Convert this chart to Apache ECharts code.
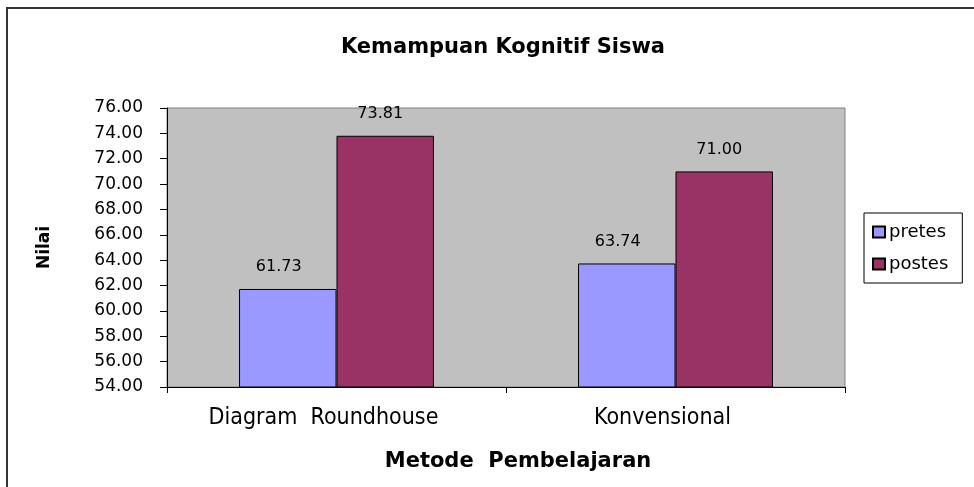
<!DOCTYPE html>
<html>
<head>
<meta charset="utf-8">
<script src="https://cdn.jsdelivr.net/npm/echarts@6/dist/echarts.min.js"></script>
<style>html,body{margin:0;padding:0;background:#fff}#c{width:974px;height:487px}</style>
</head>
<body>
<div id="c"></div>
<script>
const categories = ['Diagram  Roundhouse', 'Konvensional'];
const pretes = [61.73, 63.74];
const postes = [73.81, 71.00];
const yMin = 54, yMax = 76, yStep = 2;

const chart = echarts.init(document.getElementById('c'));
const labelStyle = (dx) => ({
  show: true, position: 'top', distance: 14, offset: [dx, 0],
  fontFamily: 'DejaVu Sans', fontSize: 16, color: '#000',
  formatter: p => p.value.toFixed(2)
});
chart.setOption({
  animation: false,
  backgroundColor: '#fff',
  title: {
    text: 'Kemampuan Kognitif Siswa',
    left: 498, top: 32, textAlign: 'center',
    textStyle: { fontFamily: 'DejaVu Sans', fontWeight: 'bold', fontSize: 21, color: '#000' }
  },
  graphic: [{
    type: 'rect', silent: true,
    shape: { x: 7, y: 8, width: 990, height: 500 },
    style: { fill: 'none', stroke: '#333', lineWidth: 2 }
  }],
  legend: {
    orient: 'vertical', left: 864, top: 213,
    padding: [10, 14, 10, 8], itemGap: 14,
    itemWidth: 12, itemHeight: 11,
    borderColor: '#000', borderWidth: 1,
    textStyle: { fontFamily: 'DejaVu Sans', fontSize: 18, color: '#000', padding: [0, 0, 0, -1] },
    data: [{ name: 'pretes', icon: 'rect' }, { name: 'postes', icon: 'rect' }]
  },
  grid: {
    left: 167, right: 129, top: 108, bottom: 100,
    show: true, backgroundColor: '#C0C0C0', borderColor: '#808080', borderWidth: 1
  },
  xAxis: {
    type: 'category', data: categories,
    name: 'Metode  Pembelajaran', nameLocation: 'middle', nameGap: 64,
    nameTextStyle: { fontFamily: 'DejaVu Sans', fontWeight: 900, fontSize: 21, color: '#000', padding: [0, 0, 0, 24] },
    axisLine: { lineStyle: { color: '#000', width: 1 } },
    axisTick: { show: true, length: 6, lineStyle: { color: '#000' } },
    axisLabel: { margin: 20, padding: [0, 26, 0, 0], fontFamily: "'Liberation Sans Narrow', 'DejaVu Sans Condensed', 'Liberation Sans', sans-serif", fontSize: 23, color: '#000' }
  },
  yAxis: {
    type: 'value', min: yMin, max: yMax, interval: yStep,
    name: 'Nilai', nameLocation: 'middle', nameGap: 114, nameRotate: 90,
    nameTextStyle: { fontFamily: 'DejaVu Sans', fontWeight: 'bold', fontSize: 17, color: '#000' },
    axisLine: { show: true, lineStyle: { color: '#000', width: 1 } },
    axisTick: { show: true, length: 7, lineStyle: { color: '#000' } },
    splitLine: { show: false },
    axisLabel: {
      margin: 24, fontFamily: 'DejaVu Sans', fontSize: 17, color: '#000',
      formatter: v => v.toFixed(2)
    }
  },
  series: [
    { name: 'pretes', type: 'bar', data: pretes, barGap: '0%', barCategoryGap: '42.5%',
      itemStyle: { color: '#9999FF', borderColor: '#000', borderWidth: 1 }, label: labelStyle(-9) },
    { name: 'postes', type: 'bar', data: postes,
      itemStyle: { color: '#993366', borderColor: '#000', borderWidth: 1 }, label: labelStyle(-5) }
  ]
});
</script>
</body>
</html>
